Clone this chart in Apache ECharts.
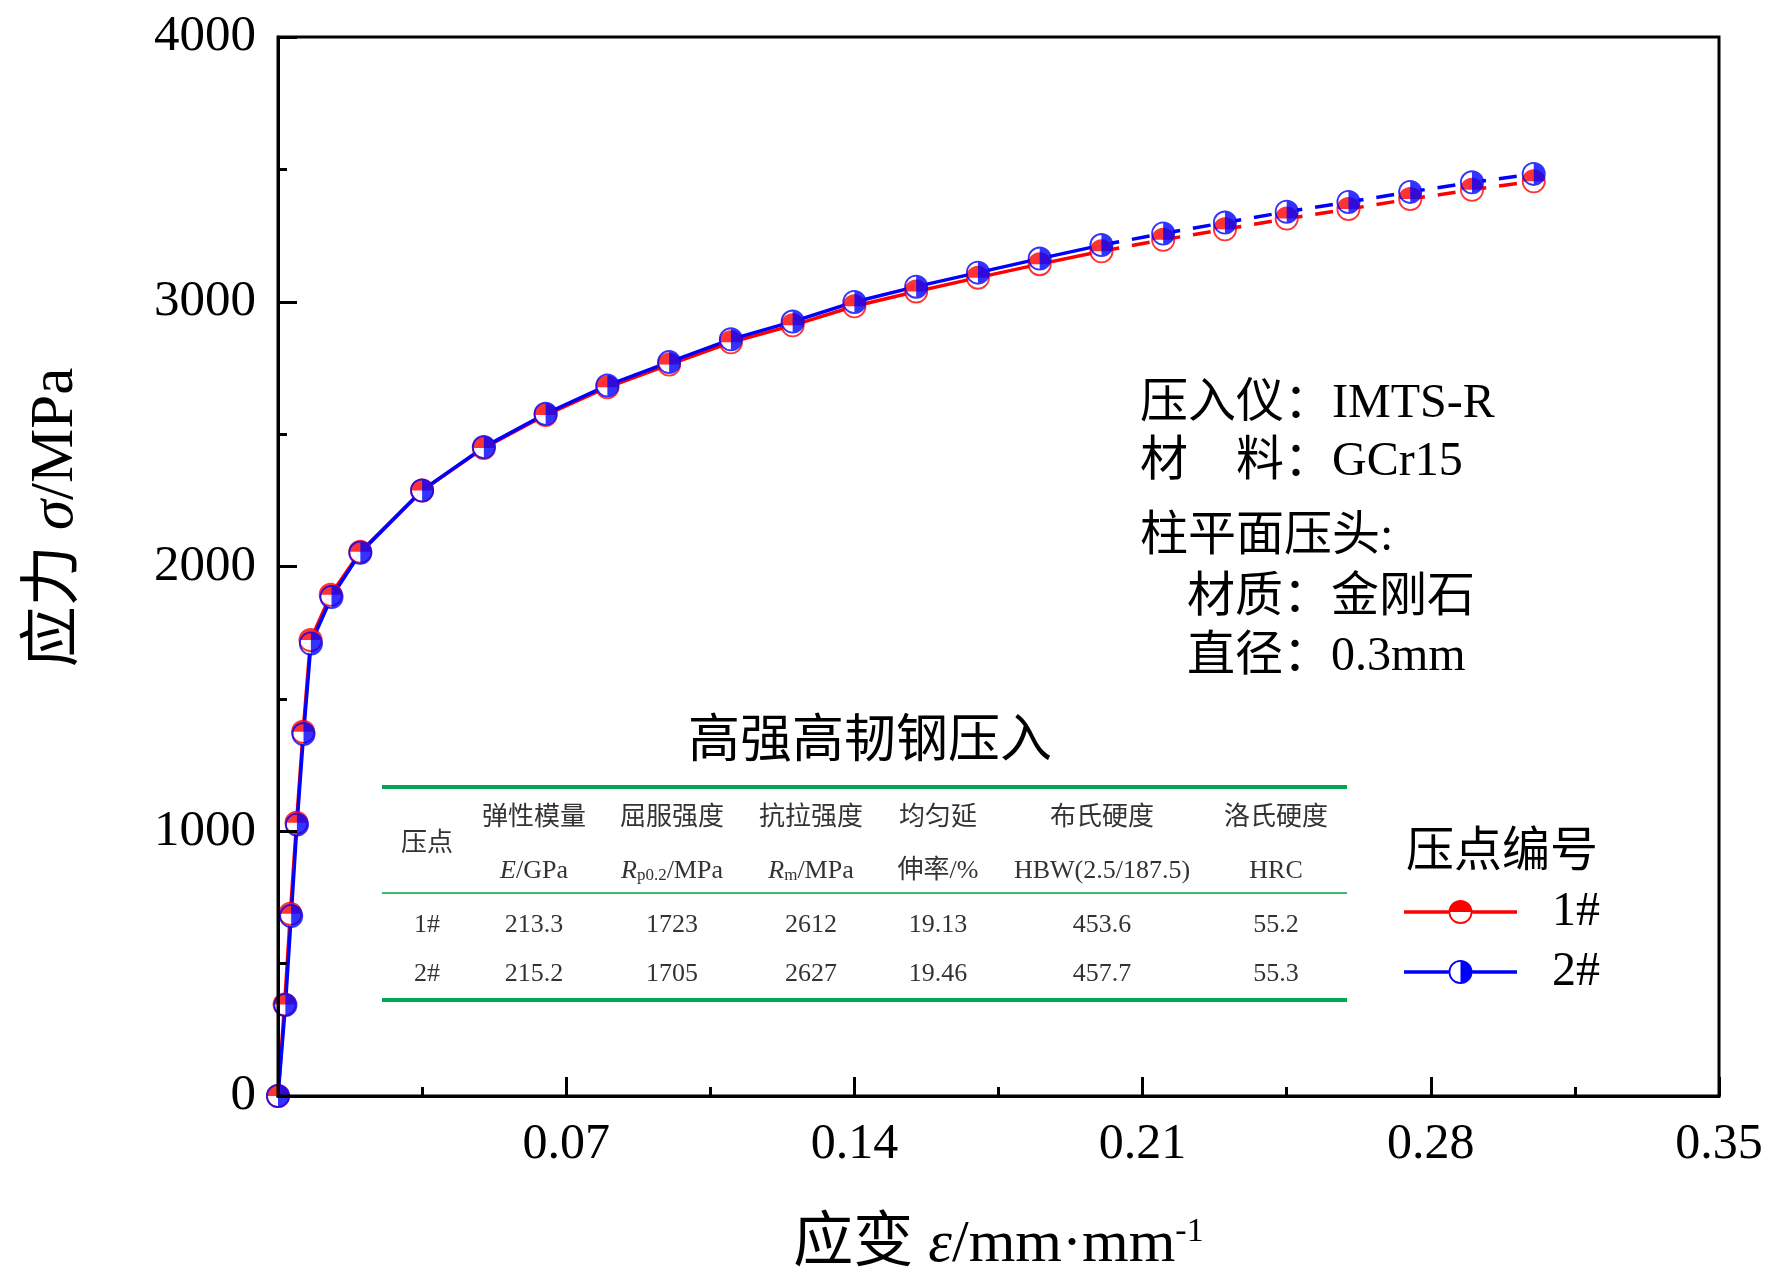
<!DOCTYPE html>
<html><head><meta charset="utf-8">
<script src="https://cdn.jsdelivr.net/npm/echarts@6/dist/echarts.min.js"></script>
<style>html,body{margin:0;padding:0;background:#fff;}#c{width:1771px;height:1285px;}</style>
</head><body><div id="c"></div>
<script>
const FONT = "'Liberation Serif','Noto Sans CJK SC',serif";

// ---------- data ----------
const strain1 = [0, 0.0016, 0.0030, 0.0045, 0.0061, 0.0079, 0.0128, 0.020, 0.035, 0.050, 0.065, 0.080, 0.095, 0.110, 0.125, 0.140, 0.155, 0.170, 0.185, 0.200];
const stress1 = [0, 346, 688, 1032, 1376, 1722, 1893, 2056, 2287, 2448, 2572, 2677, 2763, 2847, 2911, 2983, 3039, 3091, 3142, 3191];
const strain1Ext = [0.200, 0.215, 0.230, 0.245, 0.260, 0.275, 0.290, 0.305];
const stress1Ext = [3191, 3234, 3274, 3314, 3350, 3388, 3423, 3455];

const strain2 = [0, 0.0018, 0.0032, 0.0046, 0.0062, 0.0080, 0.0130, 0.020, 0.035, 0.050, 0.065, 0.080, 0.095, 0.110, 0.125, 0.140, 0.155, 0.170, 0.185, 0.200];
const stress2 = [0, 344, 680, 1025, 1367, 1709, 1885, 2052, 2287, 2451, 2577, 2684, 2772, 2858, 2925, 2999, 3057, 3110, 3163, 3214];
const strain2Ext = [0.200, 0.215, 0.230, 0.245, 0.260, 0.275, 0.290, 0.305];
const stress2Ext = [3214, 3258, 3299, 3340, 3377, 3415, 3451, 3483];

const seriesNames = ['1#', '2#'];
const yTicks = [0, 1000, 2000, 3000, 4000];
const xTickLabels = ['', '0.07', '0.14', '0.21', '0.28', '0.35'];

const tableTitle = '高强高韧钢压入';
const tableHead0 = '压点';
const tableHead1 = ['弹性模量', '屈服强度', '抗拉强度', '均匀延', '布氏硬度', '洛氏硬度'];
const tableHead2 = ['{i|E}{n|/GPa}', '{i|R}{s|p0.2}{n|/MPa}', '{i|R}{s|m}{n|/MPa}', '{n|伸率/%}', '{n|HBW(2.5/187.5)}', '{n|HRC}'];
const tableRow1 = ['1#', '213.3', '1723', '2612', '19.13', '453.6', '55.2'];
const tableRow2 = ['2#', '215.2', '1705', '2627', '19.46', '457.7', '55.3'];

const infoLines = ['压入仪：IMTS-R', '材　料：GCr15', '柱平面压头:', '材质：金刚石', '直径：0.3mm'];
const legendTitle = '压点编号';

// ---------- build ----------
const pairs = (xs, ys) => xs.map((x, i) => [x, ys[i]]);
const pts1 = pairs(strain1, stress1), ext1 = pairs(strain1Ext, stress1Ext);
const pts2 = pairs(strain2, stress2), ext2 = pairs(strain2Ext, stress2Ext);
const mk1 = pts1.concat(ext1.slice(1));
const mk2 = pts2.concat(ext2.slice(1));

const RED = '#ff0000', BLUE = '#0000ff';
const OUTER = 'M0,12 A12,12 0 1,1 24,12 A12,12 0 1,1 0,12 Z ';
const symRed = 'path://' + OUTER + 'M1.8,12 A10.2,10.2 0 0,0 22.2,12 Z';
const symBlue = 'path://' + OUTER + 'M12,1.8 A10.2,10.2 0 0,0 12,22.2 Z';
const LINES = 'M0,10.25 L44.5,10.25 L44.5,13.75 L0,13.75 Z M68.5,10.25 L113,10.25 L113,13.75 L68.5,13.75 Z M44.5,12 A12,12 0 1,1 68.5,12 A12,12 0 1,1 44.5,12 Z ';
const legRed = 'path://' + LINES + 'M46.3,12 A10.2,10.2 0 0,0 66.7,12 Z';
const legBlue = 'path://' + LINES + 'M56.5,1.8 A10.2,10.2 0 0,0 56.5,22.2 Z';

function lineS(name, data, color, dashed) {
  return { name, type: 'line', data, symbol: 'none', silent: true, z: 2,
    itemStyle: { color }, lineStyle: { color, width: 3.5, type: dashed ? [18, 13] : 'solid' } };
}
function baseS(name, data) {
  return { name, type: 'scatter', data, symbol: 'circle', symbolSize: 21, silent: true, z: 3,
    itemStyle: { color: '#ffffff' } };
}
function markS(name, data, sym, color, z) {
  return { name, type: 'scatter', data, symbol: sym, symbolSize: 24, silent: true, z,
    itemStyle: { color } };
}

const colX = [427, 534, 672, 811, 938, 1102, 1276];
const graphic = [];
function txt(x, y, text, size, align, fill, rich) {
  const st = { text, fontSize: size, fontFamily: FONT, fill: fill || '#000', align: align || 'left', verticalAlign: 'middle' };
  if (rich) st.rich = rich;
  graphic.push({ type: 'text', x, y, silent: true, style: st });
}
// info block
txt(1140, 404, infoLines[0], 48);
txt(1140, 462, infoLines[1], 48);
txt(1140, 537, infoLines[2], 48);
txt(1187, 598, infoLines[3], 48);
txt(1187, 657, infoLines[4], 48);
// legend title
txt(1406, 853, legendTitle, 48);
// table
txt(870, 743, tableTitle, 52, 'center');
const G1 = '#00a651', G2 = '#3dbb6e';
graphic.push({ type: 'line', silent: true, shape: { x1: 382, y1: 787, x2: 1347, y2: 787 }, style: { stroke: G1, lineWidth: 4 } });
graphic.push({ type: 'line', silent: true, shape: { x1: 382, y1: 893, x2: 1347, y2: 893 }, style: { stroke: G2, lineWidth: 2 } });
graphic.push({ type: 'line', silent: true, shape: { x1: 382, y1: 1000, x2: 1347, y2: 1000 }, style: { stroke: G1, lineWidth: 4 } });
const TC = '#333333';
txt(colX[0], 844, tableHead0, 26, 'center', TC);
const richT = {
  n: { fontSize: 26, fontFamily: FONT, fill: TC, verticalAlign: 'middle' },
  i: { fontSize: 26, fontFamily: FONT, fill: TC, fontStyle: 'italic', verticalAlign: 'middle' },
  s: { fontSize: 17, fontFamily: FONT, fill: TC, verticalAlign: 'bottom' }
};
tableHead1.forEach((t, k) => txt(colX[k + 1], 818, t, 26, 'center', TC));
tableHead2.forEach((t, k) => txt(colX[k + 1], 871, t, 26, 'center', TC, richT));
tableRow1.forEach((t, k) => txt(colX[k], 925, t, 26, 'center', TC));
tableRow2.forEach((t, k) => txt(colX[k], 974, t, 26, 'center', TC));

const chart = echarts.init(document.getElementById('c'), null, { renderer: 'canvas' });
chart.setOption({
  animation: false,
  backgroundColor: '#ffffff',
  grid: { left: 278, right: 52, top: 37, bottom: 189, show: true, borderColor: '#000', borderWidth: 3, backgroundColor: 'transparent', z: 10 },
  xAxis: {
    type: 'value', min: 0, max: 0.35, interval: 0.07, z: 10,
    name: '{a|应变 }{b|ε}{a|/mm·mm}{c|-1}', nameLocation: 'middle', nameGap: 119,
    nameTextStyle: { fontSize: 60, fontFamily: FONT, color: '#000',
      rich: { a: { fontSize: 60, fontFamily: FONT, color: '#000' },
              b: { fontSize: 60, fontFamily: FONT, color: '#000', fontStyle: 'italic' },
              c: { fontSize: 34, fontFamily: FONT, color: '#000', verticalAlign: 'top' } } },
    axisLine: { show: true, lineStyle: { color: '#000', width: 3 } },
    axisTick: { show: true, inside: true, length: 19, lineStyle: { color: '#000', width: 3 } },
    minorTick: { show: true, splitNumber: 2, length: 9, lineStyle: { color: '#000', width: 3 } },
    splitLine: { show: false },
    axisLabel: { fontSize: 50, fontFamily: FONT, color: '#000', margin: 24,
      formatter: v => xTickLabels[Math.round(v / 0.07)] }
  },
  yAxis: {
    type: 'value', min: 0, max: 4000, interval: 1000, z: 10,
    name: '{a|应力 }{b|σ}{a|/MPa}', nameLocation: 'middle', nameGap: 192, nameRotate: 90,
    nameTextStyle: { fontSize: 61, fontFamily: FONT, color: '#000', padding: [0, 0, 0, 98],
      rich: { a: { fontSize: 61, fontFamily: FONT, color: '#000' },
              b: { fontSize: 61, fontFamily: FONT, color: '#000', fontStyle: 'italic' } } },
    axisLine: { show: true, lineStyle: { color: '#000', width: 3 } },
    axisTick: { show: true, inside: true, length: 19, lineStyle: { color: '#000', width: 3 } },
    minorTick: { show: true, splitNumber: 2, length: 9, lineStyle: { color: '#000', width: 3 } },
    splitLine: { show: false },
    axisLabel: { fontSize: 51, fontFamily: FONT, color: '#000', margin: 22,
      formatter: v => (yTicks.indexOf(v) >= 0 ? String(v) : '') }
  },
  legend: {
    orient: 'vertical', left: 1404, top: 888, itemWidth: 113, itemHeight: 24, itemGap: 12,
    selectedMode: false, padding: 0,
    textStyle: { fontSize: 48, fontFamily: FONT, color: '#000', padding: [0, 0, 0, 30] },
    data: [
      { name: seriesNames[0], icon: legRed, itemStyle: { color: RED, borderWidth: 0 } },
      { name: seriesNames[1], icon: legBlue, itemStyle: { color: BLUE, borderWidth: 0 } }
    ]
  },
  series: [
    lineS(seriesNames[0], pts1, RED, false),
    lineS(seriesNames[0], ext1, RED, true),
    lineS(seriesNames[1], pts2, BLUE, false),
    lineS(seriesNames[1], ext2, BLUE, true),
    baseS(seriesNames[0], mk1),
    baseS(seriesNames[1], mk2),
    markS(seriesNames[0], mk1, symRed, RED, 4),
    markS(seriesNames[1], mk2, symBlue, BLUE, 5)
  ],
  graphic
});
</script></body></html>
